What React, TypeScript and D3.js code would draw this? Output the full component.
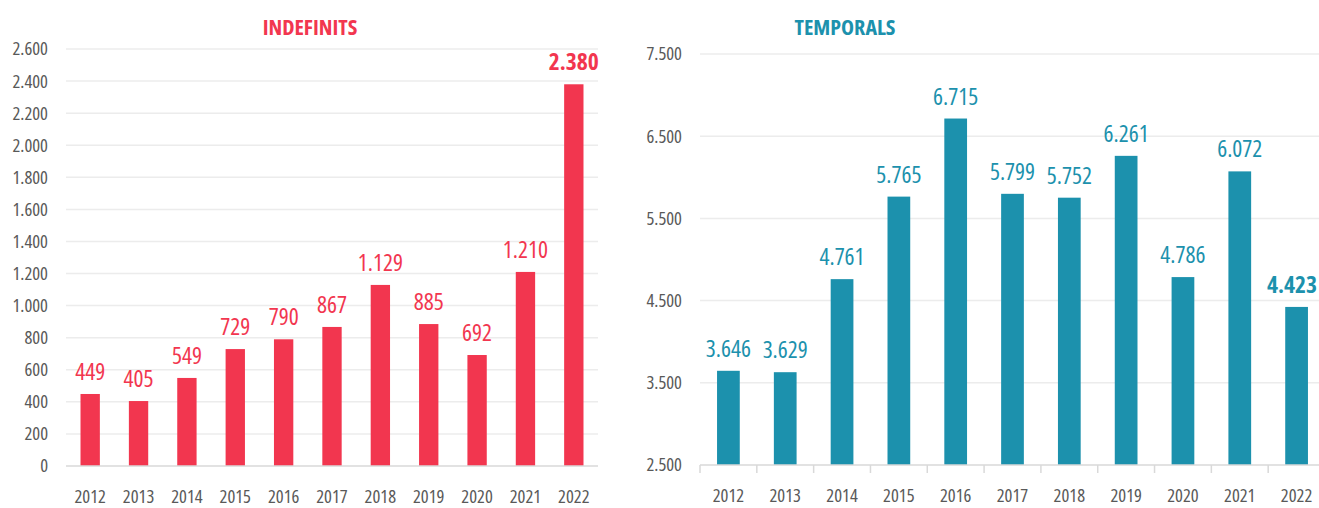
import { useEffect, useRef } from 'react';
import * as d3 from 'd3';

const years = ['2012', '2013', '2014', '2015', '2016', '2017', '2018', '2019', '2020', '2021', '2022'];
const indefinits = [449, 405, 549, 729, 790, 867, 1129, 885, 692, 1210, 2380];
const temporals = [3646, 3629, 4761, 5765, 6715, 5799, 5752, 6261, 4786, 6072, 4423];
const indefTicks = [0, 200, 400, 600, 800, 1000, 1200, 1400, 1600, 1800, 2000, 2200, 2400, 2600];
const tempTicks = [2500, 3500, 4500, 5500, 6500, 7500];

const W = 1319;
const H = 508;
const FONT = '"Open Sans", "Roboto", sans-serif';
const STRETCH = '80%';
const fmt = (v: number) => d3.format(',')(v).replace(/,/g, '.');

function drawPanel(svg, opts) {
  const { title, titleX, color, values, ticks, domain, x0, x1, yTop, yBottom, axisTicks } = opts;
  const g = svg.append('g');

  const x = d3.scaleBand().domain(years).range([x0, x1]).paddingInner(0.6).paddingOuter(0.3);
  const y = d3.scaleLinear().domain(domain).range([yBottom, yTop]);

  g.selectAll('line.grid')
    .data(ticks.slice(1))
    .enter()
    .append('line')
    .attr('x1', x0)
    .attr('x2', x1)
    .attr('y1', d => y(d))
    .attr('y2', d => y(d))
    .attr('stroke', '#ececec')
    .attr('stroke-width', 1.5);

  g.selectAll('text.ytick')
    .data(ticks)
    .enter()
    .append('text')
    .attr('x', x0 - 18)
    .attr('y', d => y(d))
    .attr('dy', '0.35em')
    .attr('text-anchor', 'end')
    .style('font-family', FONT)
    .style('font-stretch', STRETCH)
    .style('font-size', '18.5px')
    .style('fill', '#595959')
    .text(d => fmt(d));

  g.selectAll('rect.bar')
    .data(values)
    .enter()
    .append('rect')
    .attr('x', (_, i) => x(years[i]))
    .attr('width', x.bandwidth())
    .attr('y', d => y(d))
    .attr('height', d => y(domain[0]) - y(d))
    .attr('fill', color);

  g.append('line')
    .attr('x1', x0)
    .attr('x2', x1)
    .attr('y1', yBottom)
    .attr('y2', yBottom)
    .attr('stroke', '#d9d9d9')
    .attr('stroke-width', 1.5);

  if (axisTicks) {
    const step = x.step();
    g.selectAll('line.xtick')
      .data(d3.range(years.length + 1))
      .enter()
      .append('line')
      .attr('x1', i => x0 + i * step)
      .attr('x2', i => x0 + i * step)
      .attr('y1', yBottom)
      .attr('y2', yBottom + 8)
      .attr('stroke', '#d9d9d9')
      .attr('stroke-width', 1.5);
  }

  g.selectAll('text.xlab')
    .data(years)
    .enter()
    .append('text')
    .attr('x', d => x(d) + x.bandwidth() / 2)
    .attr('y', yBottom + 37)
    .attr('text-anchor', 'middle')
    .style('font-family', FONT)
    .style('font-stretch', STRETCH)
    .style('font-size', '18.5px')
    .style('fill', '#595959')
    .text(d => d);

  g.selectAll('text.val')
    .data(values)
    .enter()
    .append('text')
    .attr('x', (_, i) => x(years[i]) + x.bandwidth() / 2)
    .attr('y', d => y(d) - 14)
    .attr('text-anchor', 'middle')
    .style('font-family', FONT)
    .style('font-stretch', STRETCH)
    .style('font-size', '23.5px')
    .style('font-weight', (_, i) => (i === values.length - 1 ? '700' : '400'))
    .style('fill', color)
    .text(d => fmt(d))
    .each(function keepInside() {
      // nudge labels that would run past the right edge
      const el = this as SVGTextElement;
      const half = el.getComputedTextLength() / 2;
      const cx = +el.getAttribute('x');
      if (cx + half > W - 2) el.setAttribute('x', String(W - 2 - half));
    });

  g.append('text')
    .attr('x', titleX)
    .attr('y', 35)
    .attr('text-anchor', 'middle')
    .style('font-family', FONT)
    .style('font-stretch', STRETCH)
    .style('font-size', '22px')
    .style('font-weight', '700')
    .style('fill', color)
    .text(title);
}

export default function App() {
  const svgRef = useRef<SVGSVGElement>(null);

  useEffect(() => {
    const svg = d3.select(svgRef.current);
    svg.selectAll('*').remove();

    drawPanel(svg, {
      title: 'INDEFINITS',
      titleX: 310,
      color: '#F2364F',
      values: indefinits,
      ticks: indefTicks,
      domain: [0, 2600],
      x0: 66,
      x1: 598,
      yTop: 49,
      yBottom: 466,
      axisTicks: false,
    });

    drawPanel(svg, {
      title: 'TEMPORALS',
      titleX: 845,
      color: '#1C91AD',
      values: temporals,
      ticks: tempTicks,
      domain: [2500, 7500],
      x0: 700,
      x1: 1325,
      yTop: 54,
      yBottom: 465,
      axisTicks: true,
    });
  }, []);

  return (
    <svg
      ref={svgRef}
      width={W}
      height={H}
      style={{ position: 'absolute', left: 0, top: 0, background: '#fff' }}
    />
  );
}
